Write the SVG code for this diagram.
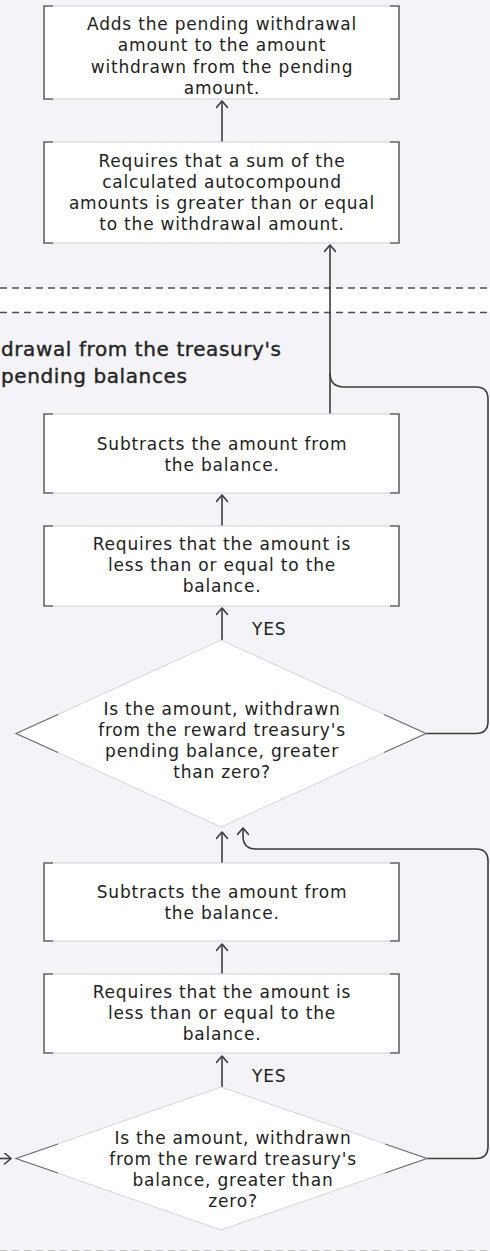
<svg xmlns="http://www.w3.org/2000/svg" width="490" height="1251" viewBox="0 0 490 1251">
<defs>
<marker id="arr" viewBox="-8 -6 10 12" refX="0" refY="0" markerWidth="10" markerHeight="12" markerUnits="userSpaceOnUse" orient="auto">
<path d="M -6.5 -5.5 L 0 0 L -6.5 5.5" fill="none" stroke="#3c3c3c" stroke-width="1.6" stroke-linecap="round" stroke-linejoin="round"/>
</marker>
</defs>
<style>
.bg{fill:#f4f4f8}
.box{fill:#ffffff;stroke:#d2d2d2;stroke-width:1}
.br{fill:none;stroke:#6a6a6a;stroke-width:1.6}
.dia{fill:#ffffff;stroke:#d6d6d6;stroke-width:1}
.dbr{fill:none;stroke:#707070;stroke-width:1.2}
.t{font-family:"DejaVu Sans","Liberation Sans",sans-serif;font-size:17px;letter-spacing:0.8px;fill:#222222;text-anchor:middle}
.lbl{font-family:"DejaVu Sans","Liberation Sans",sans-serif;font-size:17px;letter-spacing:0.8px;fill:#222222}
.title{font-family:"DejaVu Sans","Liberation Sans",sans-serif;font-size:20px;letter-spacing:0.6px;fill:#262626;stroke:#262626;stroke-width:0.4}
.c{fill:none;stroke:#3c3c3c;stroke-width:1.6}
.dash{stroke:#505050;stroke-width:1.3;stroke-dasharray:7 5}
</style>
<rect class="bg" x="0" y="0" width="490" height="1251"/>
<rect x="0" y="288" width="490" height="24.5" fill="#ffffff"/>
<line class="dash" x1="0" y1="288" x2="490" y2="288"/>
<line class="dash" x1="0" y1="312.5" x2="490" y2="312.5"/>
<line x1="0" y1="1250.5" x2="490" y2="1250.5" stroke="#c4c4c4" stroke-width="1" stroke-dasharray="7 5"/>

<g id="title">
<text class="title" x="1" y="356">drawal from the treasury's</text>
<text class="title" x="1" y="383">pending balances</text>
</g>

<g id="connectors">
<line class="c" x1="222" y1="142" x2="222" y2="101" marker-end="url(#arr)"/>
<line class="c" x1="330" y1="414" x2="330" y2="245" marker-end="url(#arr)"/>
<path class="c" d="M 426 733.5 H 476 Q 488 733.5 488 721.5 V 399 Q 488 387 476 387 H 344 Q 330 387 330 373"/>
<line class="c" x1="222" y1="526" x2="222" y2="495" marker-end="url(#arr)"/>
<line class="c" x1="222" y1="640" x2="222" y2="608" marker-end="url(#arr)"/>
<line class="c" x1="222" y1="863" x2="222" y2="832" marker-end="url(#arr)"/>
<path class="c" d="M 427 1158.5 H 476 Q 488 1158.5 488 1146.5 V 861 Q 488 849 476 849 H 256 Q 243 849 243 836 V 828" marker-end="url(#arr)"/>
<line class="c" x1="222" y1="974" x2="222" y2="944" marker-end="url(#arr)"/>
<line class="c" x1="222" y1="1087" x2="222" y2="1056" marker-end="url(#arr)"/>
<line class="c" x1="-2" y1="1158.5" x2="11" y2="1158.5" marker-end="url(#arr)"/>
<text class="lbl" x="252" y="635">YES</text>
<text class="lbl" x="252" y="1082">YES</text>
</g>

<g id="box1">
<rect class="box" x="44" y="6" width="355" height="93"/>
<path class="br" d="M 53 6 H 44 V 99 H 53 M 390 6 H 399 V 99 H 390"/>
<text class="t" x="222" y="29.5">Adds the pending withdrawal</text>
<text class="t" x="222" y="51">amount to the amount</text>
<text class="t" x="222" y="72.5">withdrawn from the pending</text>
<text class="t" x="222" y="94">amount.</text>
</g>

<g id="box2">
<rect class="box" x="44" y="142" width="355" height="101"/>
<path class="br" d="M 53 142 H 44 V 243 H 53 M 390 142 H 399 V 243 H 390"/>
<text class="t" x="222" y="166.5">Requires that a sum of the</text>
<text class="t" x="222" y="187.5">calculated autocompound</text>
<text class="t" x="222" y="208.5">amounts is greater than or equal</text>
<text class="t" x="222" y="229.5">to the withdrawal amount.</text>
</g>

<g id="box3">
<rect class="box" x="44" y="414" width="355" height="79"/>
<path class="br" d="M 53 414 H 44 V 493 H 53 M 390 414 H 399 V 493 H 390"/>
<text class="t" x="222" y="450">Subtracts the amount from</text>
<text class="t" x="222" y="471">the balance.</text>
</g>

<g id="box4">
<rect class="box" x="44" y="526" width="355" height="80"/>
<path class="br" d="M 53 526 H 44 V 606 H 53 M 390 526 H 399 V 606 H 390"/>
<text class="t" x="222" y="549.5">Requires that the amount is</text>
<text class="t" x="222" y="570.5">less than or equal to the</text>
<text class="t" x="222" y="591.5">balance.</text>
</g>

<g id="decision1">
<polygon class="dia" points="221,640 426,733.5 221,827 16,733.5"/>
<path class="dbr" d="M 58 714.5 L 16 733.5 L 58 752.5 M 384 714.5 L 426 733.5 L 384 752.5"/>
<text class="t" x="222" y="715">Is the amount, withdrawn</text>
<text class="t" x="222" y="736">from the reward treasury's</text>
<text class="t" x="222" y="757">pending balance, greater</text>
<text class="t" x="222" y="778">than zero?</text>
</g>

<g id="box5">
<rect class="box" x="44" y="863" width="355" height="78"/>
<path class="br" d="M 53 863 H 44 V 941 H 53 M 390 863 H 399 V 941 H 390"/>
<text class="t" x="222" y="897.5">Subtracts the amount from</text>
<text class="t" x="222" y="918.5">the balance.</text>
</g>

<g id="box6">
<rect class="box" x="44" y="974" width="355" height="79"/>
<path class="br" d="M 53 974 H 44 V 1053 H 53 M 390 974 H 399 V 1053 H 390"/>
<text class="t" x="222" y="997.5">Requires that the amount is</text>
<text class="t" x="222" y="1018.5">less than or equal to the</text>
<text class="t" x="222" y="1039.5">balance.</text>
</g>

<g id="decision2">
<polygon class="dia" points="221,1087 427,1158.5 221,1230 16,1158.5"/>
<path class="dbr" d="M 58 1144 L 16 1158.5 L 58 1173 M 385 1144 L 427 1158.5 L 385 1173"/>
<text class="t" x="233" y="1143.5">Is the amount, withdrawn</text>
<text class="t" x="233" y="1164.5">from the reward treasury's</text>
<text class="t" x="233" y="1185.5">balance, greater than</text>
<text class="t" x="233" y="1206.5">zero?</text>
</g>
</svg>
